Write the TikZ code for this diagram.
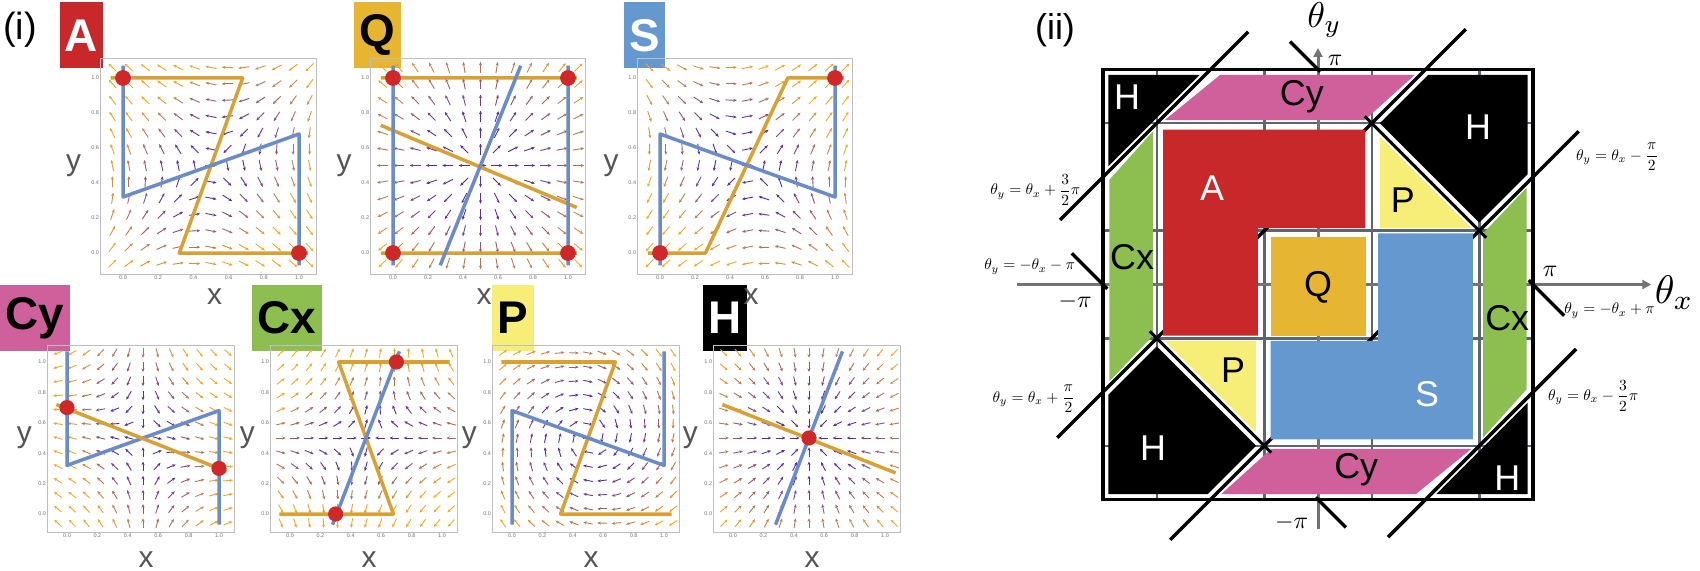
\documentclass[tikz,border=0pt]{standalone}
\usepackage{amsmath}
\usepackage{graphicx}
\usepackage{fontspec}
\setmainfont{Liberation Sans}
\usetikzlibrary{arrows.meta}
\definecolor{cA}{HTML}{C8282A}
\definecolor{cQ}{HTML}{E6B632}
\definecolor{cS}{HTML}{6698D0}
\definecolor{cCy}{HTML}{D0609C}
\definecolor{cCx}{HTML}{8CBF50}
\definecolor{cP}{HTML}{F7EE78}
\definecolor{gridc}{HTML}{5A6670}
\definecolor{vpur}{HTML}{5A2C9C}
\definecolor{vor}{HTML}{F7A823}
\definecolor{ncO}{HTML}{D9A032}
\definecolor{ncB}{HTML}{6A8CC8}
\definecolor{dotR}{HTML}{D02828}
\definecolor{labg}{HTML}{555555}
\tikzset{
 vec/.style={line width=0.9bp,-{Stealth[length=3.5bp,width=3bp]}},
 pframe/.style={draw=black!25,line width=0.6bp},
 ncorange/.style={ncO,line width=3.5bp,line join=round},
 ncblue/.style={ncB,line width=3.5bp,line join=round},
 rdot/.style={fill=dotR,draw=none},
 tick/.style={font=\fontsize{5.5}{6}\selectfont,text=black!55,inner sep=1bp},
 axl/.style={font=\fontsize{30}{30}\selectfont,text=labg},
 tagbox/.style={minimum width=#1,minimum height=66bp,inner sep=0pt,font=\fontsize{46}{46}\selectfont\bfseries},
 reg/.style={font=\fontsize{36}{36}\selectfont},
 bigline/.style={line width=3.5bp,black},
 eqn/.style={inner sep=1bp},
}
\newcommand\vfield[2]{%
 \foreach \i in {0,...,12}{\foreach \j in {0,...,12}{%
  \pgfmathsetmacro\px{-0.06+\i*1.12/12}%
  \pgfmathsetmacro\py{-0.06+\j*1.12/12}%
  \pgfmathsetmacro\uu{\px-0.5}%
  \pgfmathsetmacro\ww{\py-0.5}%
  \pgfmathsetmacro\fx{#1+0.00001}%
  \pgfmathsetmacro\fy{#2}%
  \pgfmathsetmacro\ang{atan2(\fy,\fx)}%
  \pgfmathsetmacro\mg{min(100,max(0,(veclen(\fx,\fy)-0.3)*220))}%
  \draw[vec,color=vor!\mg!vpur] (\px,\py) ++(\ang+180:0.032) -- ++(\ang:0.064);
 }}}
\newcommand\pframe[1]{%
 \draw[pframe] (-0.13,-0.12) rectangle (1.10,1.11);
 \foreach \t/\l in {0/0.0,0.2/0.2,0.4/0.4,0.6/0.6,0.8/0.8,1/1.0}{
  \node[tick,anchor=north] at (\t,-0.12) {\l};
  \node[tick,anchor=east] at (-0.13,\t) {\l};}
 \node[axl] at (0.52,#1) {x};
 \node[axl] at (-0.28,0.5) {y};
}
\newcommand\eq[1]{\scalebox{1.55}{$#1$}}
\begin{document}
\begin{tikzpicture}[x=1bp,y=-1bp]
\useasboundingbox (0,0) rectangle (1700,571);
\node[font=\fontsize{38}{38}\selectfont] (ti) at (20,30) {(i)};
\node[font=\fontsize{36}{36}\selectfont] (tii) at (1055,30) {(ii)};
% tags
\node[tagbox=43bp,fill=cA,text=white] (tA) at (81.5,35.5) {A};
\node[tagbox=47bp,fill=cQ,text=black] (tQ) at (377.5,35.5) {Q};
\node[tagbox=41bp,fill=cS,text=white] (tS) at (644.5,35.5) {S};
\node[tagbox=70bp,fill=cCy,text=black] (tCy) at (35,318) {Cy};
\node[tagbox=70bp,fill=cCx,text=black] (tCx) at (287,318) {Cx};
\node[tagbox=42bp,fill=cP,text=black] (tP) at (513,318) {P};
\node[tagbox=44bp,fill=black,text=white] (tH) at (725,318) {H};
% ---- A
\begin{scope}[shift={(123,253)},x=176bp,y=175bp]
 \pframe{-0.25}
 \vfield{-(\uu+\ww)/2+0.75*(\uu-\ww)}{-(\uu+\ww)/2-0.75*(\uu-\ww)}
 \draw[ncorange] (-0.07,1)--(0.68,1)--(0.32,0)--(1.05,0);
 \draw[ncblue] (0,1.07)--(0,0.32)--(1,0.68)--(1,-0.07);
 \fill[rdot] (0,1) circle (0.045) (1,0) circle (0.045);
\end{scope}
% ---- Q
\begin{scope}[shift={(393,253)},x=175bp,y=175bp]
 \pframe{-0.25}
 \vfield{\uu}{\ww}
 \draw[ncorange] (-0.07,1)--(1.05,1) (-0.07,0)--(1.05,0) (-0.07,0.73)--(1.05,0.26);
 \draw[ncblue] (0,1.07)--(0,-0.07) (1,1.07)--(1,-0.07) (0.27,-0.07)--(0.73,1.07);
 \fill[rdot] (0,1) circle (0.045) (1,0) circle (0.045) (0,0) circle (0.045) (1,1) circle (0.045);
\end{scope}
% ---- S
\begin{scope}[shift={(660,253)},x=175bp,y=175bp]
 \pframe{-0.25}
 \vfield{0.75*(\uu+\ww)-0.5*(\uu-\ww)}{0.75*(\uu+\ww)+0.5*(\uu-\ww)}
 \draw[ncorange] (-0.07,0)--(0.26,0)--(0.73,1)--(1.05,1);
 \draw[ncblue] (0,-0.07)--(0,0.68)--(1,0.32)--(1,1.07);
 \fill[rdot] (0,0) circle (0.045) (1,1) circle (0.045);
\end{scope}
% ---- Cy
\begin{scope}[shift={(67,514)},x=152bp,y=152bp]
 \pframe{-0.3}
 \vfield{1.5*\uu}{-(\ww+0.4*\uu)}
 \draw[ncblue] (0,1.07)--(0,0.32)--(1,0.68)--(1,-0.07);
 \draw[ncorange] (-0.07,0.72)--(1.05,0.28);
 \fill[rdot] (0,0.7) circle (0.05) (1,0.3) circle (0.05);
\end{scope}
% ---- Cx
\begin{scope}[shift={(290,514)},x=152bp,y=152bp]
 \pframe{-0.3}
 \vfield{-(\uu-0.4*\ww)}{1.5*\ww}
 \draw[ncorange] (-0.07,0)--(0.68,0)--(0.32,1)--(1.05,1);
 \draw[ncblue] (0.28,-0.07)--(0.72,1.07);
 \fill[rdot] (0.3,0) circle (0.05) (0.7,1) circle (0.05);
\end{scope}
% ---- P
\begin{scope}[shift={(512,514)},x=152bp,y=152bp]
 \pframe{-0.3}
 \vfield{\ww-0.2*\uu}{-\uu-0.2*\ww}
 \draw[ncorange] (-0.07,1)--(0.68,1)--(0.32,0)--(1.05,0);
 \draw[ncblue] (0,-0.07)--(0,0.68)--(1,0.32)--(1,1.07);
\end{scope}
% ---- H
\begin{scope}[shift={(733,514)},x=152bp,y=152bp]
 \pframe{-0.3}
 \vfield{-\uu}{-\ww}
 \draw[ncorange] (-0.07,0.72)--(1.07,0.27);
 \draw[ncblue] (0.28,-0.07)--(0.72,1.07);
 \fill[rdot] (0.5,0.5) circle (0.05);
\end{scope}
% ================= (ii)
\begin{scope}[shift={(1318,284.5)},x=53.75bp,y=53.75bp]
 \foreach \g in {-3,-1,1,3}{
  \draw[gridc,line width=2.5bp] (\g,-4)--(\g,4);
  \draw[gridc,line width=2.5bp] (-4,\g)--(4,\g);}
 \draw[black!55,line width=3bp,-{Triangle[length=9bp,width=9bp]}] (-5.6,0)--(6.2,0);
 \draw[black!55,line width=3bp,-{Triangle[length=9bp,width=9bp]}] (0,-4.55)--(0,4.4);
 \draw[bigline] (-4.85,-2.85)--(2.75,4.75);
 \draw[bigline] (-2.75,-4.75)--(4.85,2.85);
 \draw[bigline] (-4.8,1.2)--(-1.3,4.7);
 \draw[bigline] (1.3,-4.7)--(4.8,-1.2);
 \fill[cA] (-2.88,2.88)--(0.88,2.88)--(0.88,1.05)--(-1.12,1.05)--(-1.12,-0.95)--(-2.88,-0.95)--cycle;
 \fill[cS] (2.88,-2.88)--(-0.88,-2.88)--(-0.88,-1.05)--(1.12,-1.05)--(1.12,0.95)--(2.88,0.95)--cycle;
 \fill[cQ] (-0.88,-0.95) rectangle (0.9,0.88);
 \fill[cP] (1.15,2.75)--(1.15,1.05)--(2.85,1.05)--cycle;
 \fill[cP] (-1.15,-2.75)--(-1.15,-1.05)--(-2.85,-1.05)--cycle;
 \fill[cCy] (-2.85,3.06)--(-1.82,3.9)--(1.8,3.9)--(0.87,3.06)--cycle;
 \fill[cCy] (2.85,-3.06)--(1.82,-3.9)--(-1.8,-3.9)--(-0.87,-3.06)--cycle;
 \fill[cCx] (-3.07,2.85)--(-3.88,1.95)--(-3.88,-1.8)--(-3.07,-0.95)--cycle;
 \fill[cCx] (3.07,-2.85)--(3.88,-1.95)--(3.88,1.8)--(3.07,0.95)--cycle;
 \fill[black] (-3.9,3.9)--(-2.2,3.9)--(-3.9,2.2)--cycle;
 \fill[black] (3.9,-3.9)--(2.2,-3.9)--(3.9,-2.2)--cycle;
 \fill[black] (2.05,3.9)--(3.9,3.9)--(3.9,2.05)--(3.0,1.15)--(1.15,3.0)--cycle;
 \fill[black] (-2.05,-3.9)--(-3.9,-3.9)--(-3.9,-2.05)--(-3.0,-1.15)--(-1.15,-3.0)--cycle;
 \draw[bigline,line width=3bp] (0.87,3.13)--(3.13,0.87);
 \draw[bigline,line width=3bp] (-0.87,-3.13)--(-3.13,-0.87);
 \draw[bigline] (-4.58,0.58)--(-3.92,-0.08);
 \draw[bigline] (4.58,-0.58)--(3.92,0.08);
 \draw[bigline] (-0.52,4.52)--(0.04,3.96);
 \draw[bigline] (0.52,-4.52)--(-0.04,-3.96);
 \draw[black,line width=3.5bp] (-4,-4) rectangle (4,4);
 \node[reg,text=white] at (-3.55,3.49) {H};
 \node[reg] at (-0.3,3.49) {Cy};
 \node[reg,text=white] at (2.98,2.93) {H};
 \node[reg,text=white] at (-1.97,1.79) {A};
 \node[reg] at (1.58,1.57) {P};
 \node[reg] at (-3.46,0.51) {Cx};
 \node[reg] at (0,-0.05) {Q};
 \node[reg] at (3.52,-0.62) {Cx};
 \node[reg] at (-1.58,-1.6) {P};
 \node[reg,text=white] at (2.03,-2.04) {S};
 \node[reg,text=white] at (-3.07,-3.04) {H};
 \node[reg] at (0.71,-3.45) {Cy};
 \node[reg,text=white] at (3.52,-3.6) {H};
 \node[inner sep=0pt] at (0.12,4.92) {\scalebox{3.6}{$\theta_y$}};
 \node[anchor=west] at (6.2,-0.15) {\scalebox{4}{$\theta_x$}};
 \node[inner sep=0pt] at (0.32,4.17) {\scalebox{2.4}{$\pi$}};
 \node at (4.32,0.25) {\scalebox{2.4}{$\pi$}};
 \node at (-4.52,-0.32) {\scalebox{2.4}{$-\pi$}};
 \node at (-0.49,-4.43) {\scalebox{2.4}{$-\pi$}};
 \node[eqn,anchor=east] at (-4.4,1.76) {\eq{\theta_y=\theta_x+\dfrac{3}{2}\pi}};
 \node[eqn,anchor=east] at (-4.5,0.33) {\eq{\theta_y=-\theta_x-\pi}};
 \node[eqn,anchor=east] at (-4.5,-2.13) {\eq{\theta_y=\theta_x+\dfrac{\pi}{2}}};
 \node[eqn,anchor=west] at (4.78,2.37) {\eq{\theta_y=\theta_x-\dfrac{\pi}{2}}};
 \node[eqn,anchor=west] at (4.56,-0.49) {\eq{\theta_y=-\theta_x+\pi}};
 \node[eqn,anchor=west] at (4.26,-2.07) {\eq{\theta_y=\theta_x-\dfrac{3}{2}\pi}};
\end{scope}
\end{tikzpicture}
\end{document}
